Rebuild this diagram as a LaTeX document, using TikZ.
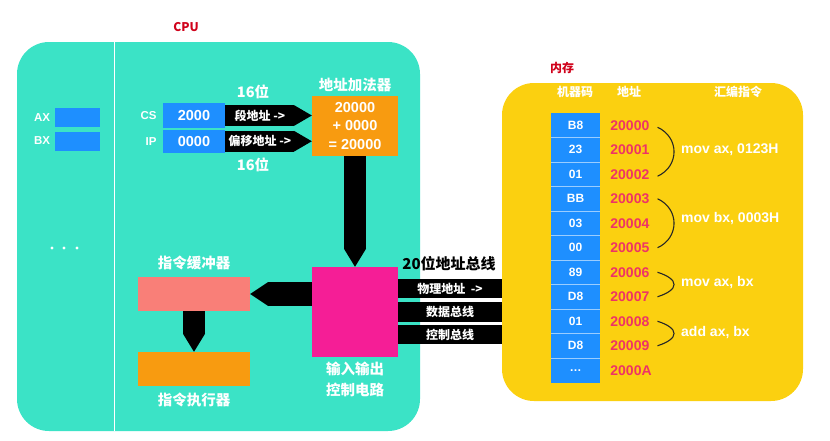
\documentclass[tikz,border=0pt]{standalone}
\usepackage{fontspec}
\setmainfont{Liberation Sans}
\newfontfamily\cjk{Noto Sans CJK SC}
\usetikzlibrary{arrows.meta, positioning}

\definecolor{cputeal}{HTML}{3BE3C6}
\definecolor{regblue}{HTML}{1E8FFF}
\definecolor{adderorange}{HTML}{F89B10}
\definecolor{bufsalmon}{HTML}{F97F78}
\definecolor{iopink}{HTML}{F51E96}
\definecolor{memyellow}{HTML}{FBD010}
\definecolor{titlered}{HTML}{D0021B}
\definecolor{addrred}{HTML}{EE3366}

\begin{document}
\begin{tikzpicture}[
      x=1pt, y=-1pt,
      title/.style={text=titlered, font=\cjk\bfseries\fontsize{12}{14}\selectfont},
      wlbl/.style={text=white, inner sep=1pt, font=\cjk\bfseries\fontsize{14.5}{21}\selectfont},
      slbl/.style={text=white, inner sep=1pt, font=\cjk\bfseries\fontsize{12}{14}\selectfont},
      rlbl/.style={text=white, inner sep=1pt, font=\bfseries\fontsize{11.5}{14}\selectfont},
      reg/.style={fill=regblue, inner sep=0pt, text=white, font=\bfseries\fontsize{14.5}{17}\selectfont},
      unit/.style={inner sep=0pt, minimum width=#1},
      fat/.style={line width=#1, -{Triangle[length=18pt, width=#1, line width=0pt]}},
      bar/.style={line width=19.5pt},
      cell/.style={fill=regblue, minimum width=49pt, minimum height=24.5pt, inner sep=0pt,
        text=white, font=\bfseries\fontsize{12}{14}\selectfont},
      addr/.style={text=addrred, inner sep=1pt, font=\bfseries\fontsize{14}{16}\selectfont},
      instr/.style={text=white, inner sep=0pt, anchor=west, font=\bfseries\fontsize{14}{16}\selectfont},
      curl/.style={draw=black!85, line width=1.1pt}
    ]
    \useasboundingbox (0,0) rectangle (830,440);

    % CPU
    \node[title] (cputitle) at (186,27) {CPU};
    \node[fill=cputeal, rounded corners=32pt, minimum width=403pt, minimum height=389pt] (cpu) at (218.5,236.5) {};
    \draw[white, line width=1pt] ([xshift=98pt]cpu.north west) -- ([xshift=98pt]cpu.south west);

    % general registers
    \node[reg, minimum width=45pt, minimum height=19pt] (ax) at (77.5,117.5) {};
    \node[reg, minimum width=45pt, minimum height=19pt] (bx) at (77.5,141) {};
    \node[rlbl, left=3.5pt of ax] (axl) {AX};
    \node[rlbl, left=3.5pt of bx] (bxl) {BX};
    \foreach \x in {52,64,77}
      \fill[white] (\x,248) circle (1.6pt);

    % segment + offset
    \node[reg, minimum width=62pt, minimum height=25pt] (cs) at (194,115.5) {2000};
    \node[reg, minimum width=62pt, minimum height=23.5pt] (ip) at (194,141.25) {0000};
    \node[rlbl, left=5pt of cs] (csl) {CS};
    \node[rlbl, left=5pt of ip] (ipl) {IP};
    \node[wlbl] (w1) at (253,92) {16位};
    \node[wlbl] (w2) at (253,165) {16位};

    \node[unit=86pt, fill=adderorange, minimum height=60pt, text=white, align=center,
      font=\bfseries\fontsize{14.5}{18.5}\selectfont] (add) at (355,126) {20000\\+ 0000\\= 20000};
    \node[wlbl, above=3pt of add] (addl) {地址加法器};

    \draw[fat=21pt] (cs.east) -- (cs.east -| add.west) node[slbl, pos=0.4] {段地址 ->};
    \draw[fat=21pt] (ip.east) -- (ip.east -| add.west) node[slbl, pos=0.4] {偏移地址 ->};

    % io, buffer, executor
    \node[unit=86pt, fill=iopink, minimum height=90pt] (io) at (355,312) {};
    \node[wlbl, below=4pt of io, align=center] (iol) {输入输出\\控制电路};
    \node[unit=112pt, fill=bufsalmon, minimum height=34pt] (buf) at (194,294) {};
    \node[wlbl, above=6pt of buf] (bufl) {指令缓冲器};
    \node[unit=112pt, fill=adderorange, minimum height=34pt] (exec) at (194,369) {};
    \node[wlbl, below=6pt of exec] (execl) {指令执行器};

    \draw[fat=22pt] (add.south) -- (io.north);
    \draw[fat=24pt] (io.west |- buf.east) -- (buf.east);
    \draw[fat=22pt] (buf.south) -- (exec.north);

    % memory
    \node[title] (memtitle) at (562,68) {内存};
    \node[fill=memyellow, rounded corners=32pt, minimum width=301pt, minimum height=318pt] (mem) at (652.5,242) {};
    \node[slbl] (h1) at (575,92) {机器码};
    \node[slbl] (h2) at (629,92) {地址};
    \node[slbl] (h3) at (738,92) {汇编指令};

    % buses
    \draw[bar] ([yshift=23.5pt]io.east) -- ([yshift=23.5pt]io.east -| mem.west) node[slbl, midway] {物理地址\ \ ->};
    \draw[bar] (io.east) -- (io.east -| mem.west) node[slbl, midway] {数据总线};
    \draw[bar] ([yshift=-22.5pt]io.east) -- ([yshift=-22.5pt]io.east -| mem.west) node[slbl, midway] {控制总线};
    \node[font=\cjk\bfseries\fontsize{15}{17}\selectfont] (busl) at (449,264) {20位地址总线};

    \foreach \code [count=\i from 0] in {B8,23,01,BB,03,00,89,D8,01,D8}
      \node[cell] (c\i) at (575.5,{125.25+24.5*\i}) {\code};
    \node[cell] (c10) at (575.5,370.25) {\ldots};
    \foreach \i in {0,...,9}
      \draw[white!55!regblue, line width=0.8pt] (c\i.south west) -- (c\i.south east);

    \foreach \a [count=\i from 0] in {20000,20001,20002,20003,20004,20005,20006,20007,20008,20009,2000A}
      \node[addr, right=9pt of c\i] (a\i) {\a};

    \draw[curl] ([xshift=7pt,yshift=-2pt]a0.east) .. controls +(22,10) and +(22,-10) .. ([xshift=7pt,yshift=-2pt]a2.east);
    \draw[curl] ([xshift=7pt]a3.east) .. controls +(22,10) and +(22,-10) .. ([xshift=7pt]a5.east);
    \draw[curl] ([xshift=7pt]a6.east) .. controls +(22,7) and +(22,-7) .. ([xshift=7pt]a7.east);
    \draw[curl] ([xshift=7pt]a8.east) .. controls +(22,7) and +(22,-7) .. ([xshift=7pt]a9.east);

    \node[instr] (i0) at (681,150) {mov ax, 0123H};
    \node[instr] (i1) at (681,219) {mov bx, 0003H};
    \node[instr] (i2) at (681,283) {mov ax, bx};
    \node[instr] (i3) at (681,333) {add ax, bx};
    \end{tikzpicture}
\end{document}
